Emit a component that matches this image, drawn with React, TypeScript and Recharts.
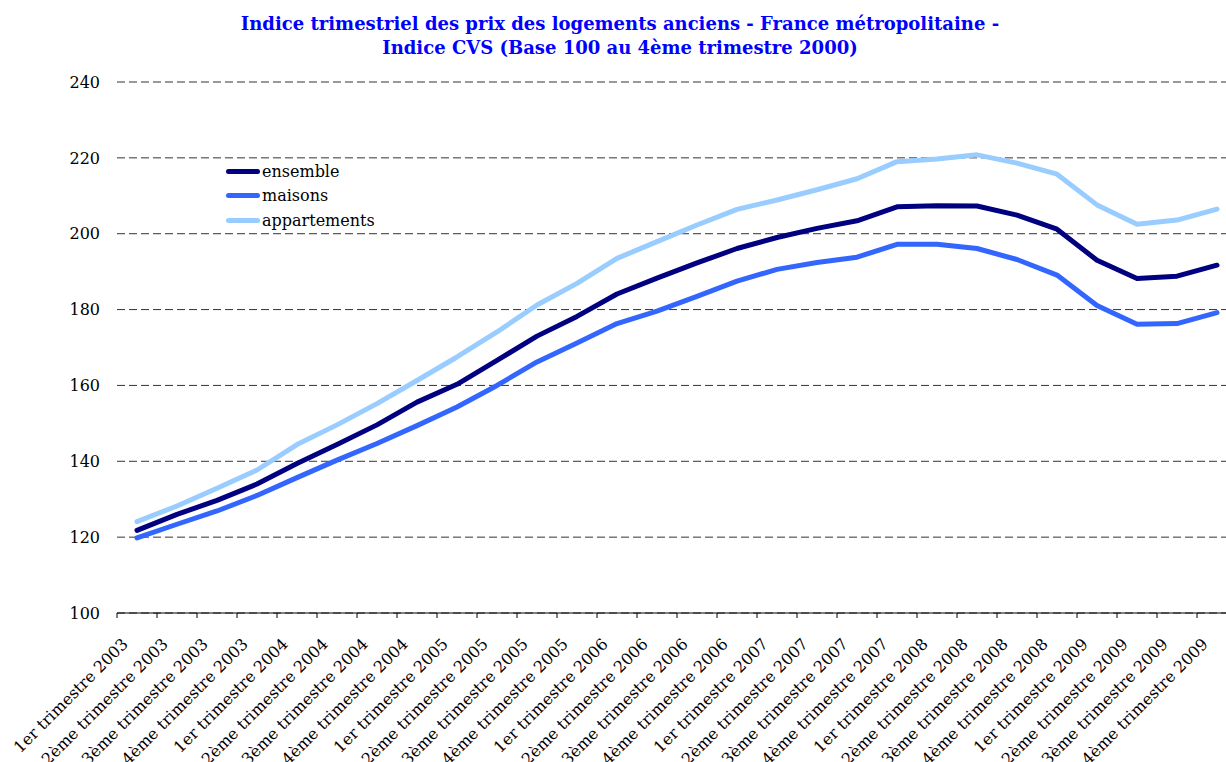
import React from "react";
import {
  LineChart,
  Line,
  XAxis,
  YAxis,
  CartesianGrid,
  Legend,
} from "recharts";

const quarters = ["1er", "2ème", "3ème", "4ème"];
const years = [2003, 2004, 2005, 2006, 2007, 2008, 2009];

const categories = years.flatMap((y) => quarters.map((q) => `${q} trimestre ${y}`));

const ensemble = [
  121.8, 126.0, 129.7, 134.0, 139.4, 144.4, 149.6, 155.6, 160.3, 166.6, 173.0, 178.2, 184.1, 188.3,
  192.3, 196.1, 199.0, 201.4, 203.4, 207.1, 207.4, 207.3, 204.9, 201.2, 193.0, 188.2, 188.8, 191.7,
];
const maisons = [
  119.8, 123.4, 126.9, 131.0, 135.7, 140.3, 144.7, 149.4, 154.3, 160.0, 166.2, 171.2, 176.3, 179.6,
  183.5, 187.5, 190.6, 192.4, 193.8, 197.2, 197.2, 196.1, 193.2, 189.1, 181.1, 176.1, 176.3, 179.2,
];
const appartements = [
  124.1, 128.2, 132.9, 137.7, 144.4, 149.6, 155.2, 161.3, 167.5, 174.1, 181.2, 186.9, 193.5, 197.9,
  202.3, 206.4, 208.9, 211.6, 214.5, 219.0, 219.7, 220.8, 218.6, 215.7, 207.6, 202.5, 203.6, 206.5,
];

const seriesOrder = ["ensemble", "maisons", "appartements"];
const yTicks = [100, 120, 140, 160, 180, 200, 220, 240];

const data = categories.map((c, i) => ({
  cat: c,
  ensemble: ensemble[i],
  maisons: maisons[i],
  appartements: appartements[i],
}));

const FONT = "'DejaVu Serif', serif";
const CHART_W = 1240;
const PLOT_LEFT = 117;
const PLOT_RIGHT = 1237;
const STEP = (PLOT_RIGHT - PLOT_LEFT) / categories.length;

const XTick = (props: any) => {
  const { x, y, payload } = props;
  const bx = x - STEP / 2;
  const tx = x - 8;
  const ty = y + 32;
  return (
    <g>
      <line x1={bx} y1={y} x2={bx} y2={y + 5} stroke="#000" />
      <text
        x={tx}
        y={ty}
        textAnchor="end"
        transform={`rotate(-45, ${tx}, ${ty})`}
        fontSize={16}
        fontFamily={FONT}
        fill="#000"
      >
        {payload.value}
      </text>
    </g>
  );
};

const LegendBox = (props: any) => {
  const items = [...(props.payload || [])].sort(
    (a: any, b: any) => seriesOrder.indexOf(a.value) - seriesOrder.indexOf(b.value)
  );
  return (
    <div style={{ fontFamily: FONT, fontSize: 16, color: "#000" }}>
      {items.map((p: any) => (
        <div key={p.value} style={{ display: "flex", alignItems: "center", height: 24.5 }}>
          <span
            style={{
              display: "inline-block",
              width: 34,
              height: 5,
              borderRadius: 2.5,
              background: p.color,
              marginRight: 2,
            }}
          />
          <span>{p.value}</span>
        </div>
      ))}
    </div>
  );
};

export default function App() {
  return (
    <div
      style={{
        position: "absolute",
        left: 0,
        top: 0,
        width: 1226,
        height: 762,
        overflow: "hidden",
        background: "#fff",
      }}
    >
      <div
        style={{
          position: "absolute",
          left: 0,
          top: 12,
          width: 1240,
          textAlign: "center",
          fontFamily: FONT,
          fontWeight: "bold",
          fontSize: 18,
          lineHeight: "24px",
          color: "#0000FF",
        }}
      >
        <div>Indice trimestriel des prix des logements anciens - France métropolitaine -</div>
        <div>Indice CVS (Base 100 au 4ème trimestre 2000)</div>
      </div>
      <LineChart
        width={CHART_W}
        height={762}
        data={data}
        margin={{ top: 82, right: CHART_W - PLOT_RIGHT, left: 0, bottom: 0 }}
      >
        <CartesianGrid vertical={false} stroke="#333" strokeDasharray="8 4" />
        <XAxis
          dataKey="cat"
          interval={0}
          height={149}
          padding={{ left: STEP / 2, right: STEP / 2 }}
          tickLine={false}
          tickSize={0}
          tickMargin={0}
          axisLine={{ stroke: "#000" }}
          tick={<XTick />}
        />
        <YAxis
          domain={[100, 240]}
          ticks={yTicks}
          width={PLOT_LEFT}
          axisLine={false}
          tickLine={false}
          tickSize={0}
          tickMargin={17}
          tick={{ fontSize: 16, fontFamily: FONT, fill: "#000" }}
        />
        <Legend
          layout="vertical"
          align="center"
          verticalAlign="middle"
          wrapperStyle={{ left: 226, top: 159, width: 200 }}
          content={<LegendBox />}
        />
        <Line
          type="linear"
          dataKey="ensemble"
          stroke="#000080"
          strokeWidth={5}
          dot={false}
          strokeLinejoin="round"
          strokeLinecap="round"
          isAnimationActive={false}
        />
        <Line
          type="linear"
          dataKey="maisons"
          stroke="#3366FF"
          strokeWidth={5}
          dot={false}
          strokeLinejoin="round"
          strokeLinecap="round"
          isAnimationActive={false}
        />
        <Line
          type="linear"
          dataKey="appartements"
          stroke="#99CCFF"
          strokeWidth={5}
          dot={false}
          strokeLinejoin="round"
          strokeLinecap="round"
          isAnimationActive={false}
        />
      </LineChart>
    </div>
  );
}
